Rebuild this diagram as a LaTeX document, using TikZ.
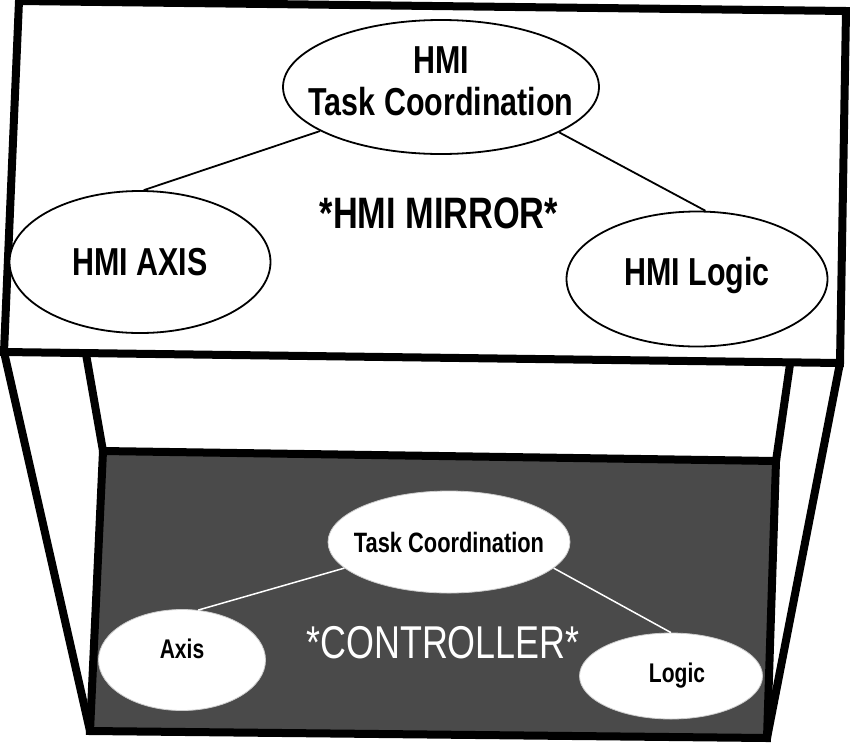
\documentclass[tikz,border=0pt]{standalone}
\usepackage{fontspec}
\setmainfont[FakeStretch=0.78]{Liberation Sans}
\usetikzlibrary{shapes.geometric}
\definecolor{ctlgray}{HTML}{4A4A4A}

\begin{document}
\begin{tikzpicture}[x=1pt,y=-1pt,
  frame/.style={line width=8pt,line join=miter},
  hmibox/.style={ellipse,draw,line width=1.8pt,fill=white,inner sep=0pt},
  ctlbox/.style={ellipse,draw=gray!40,line width=0.8pt,fill=white,inner sep=0pt},
  hmitext/.style={font=\bfseries\fontsize{39}{42}\selectfont,align=center},
  ctltext/.style={font=\bfseries\fontsize{27}{30}\selectfont},
  hmilink/.style={line width=1.8pt},
  ctllink/.style={line width=1.5pt,white}]
\useasboundingbox (0,0) rectangle (850,742);
% corners of the two panels
\coordinate (tl) at (19,1);
\coordinate (tr) at (846,11);
\coordinate (br) at (840,363);
\coordinate (bl) at (4,352);
\coordinate (il) at (86,354);
\coordinate (ir) at (790,364);
\coordinate (dtl) at (103,451);
\coordinate (dtr) at (776,461);
\coordinate (dbr) at (767,738);
\coordinate (dbl) at (90,731);
% controller panel and side lines
\draw[frame,fill=ctlgray] (dtl) -- (dtr) -- (dbr) -- (dbl) -- cycle;
\draw[frame] (bl) -- (dbl);
\draw[frame] (il) -- (dtl);
\draw[frame] (ir) -- (dtr);
\draw[frame] (br) -- (dbr);
% hmi panel
\draw[frame,fill=white] (tl) -- (tr) -- (br) -- (bl) -- cycle;

% hmi mirror
\node[hmibox,minimum width=316pt,minimum height=134pt,
  label={[hmitext,yshift=6pt]center:HMI\\Task Coordination}] (tc) at (441,87) {};
\node[hmibox,minimum width=261pt,minimum height=142pt,
  label={[hmitext]center:HMI AXIS}] (axis) at (140,262) {};
\node[hmibox,minimum width=261pt,minimum height=135pt,
  label={[hmitext,yshift=4pt]center:HMI Logic}] (logic) at (697,279) {};
\node[font=\bfseries\fontsize{44}{46}\selectfont] (mirror) at (439,213) {*HMI MIRROR*};
\draw[hmilink] (tc.200) -- (axis.87);
\draw[hmilink] (tc.339) -- (logic.83);

% controller
\node[ctlbox,minimum width=242pt,minimum height=102pt,
  label={[ctltext,font=\bfseries\fontsize{28}{30}\selectfont]center:Task Coordination}] (ctc) at (449,542) {};
\node[ctlbox,minimum width=167pt,minimum height=101pt,
  label={[ctltext,yshift=11pt]center:Axis}] (caxis) at (182,660) {};
\node[ctlbox,minimum width=183pt,minimum height=86pt,
  label={[ctltext,xshift=6pt]center:Logic}] (clogic) at (671,676) {};
\node[white,font=\fontsize{46}{48}\selectfont] (ctl) at (443,643) {*CONTROLLER*};
\draw[ctllink] (ctc.194) -- (caxis.72);
\draw[ctllink] (ctc.346) -- (clogic.north);
\end{tikzpicture}
\end{document}
